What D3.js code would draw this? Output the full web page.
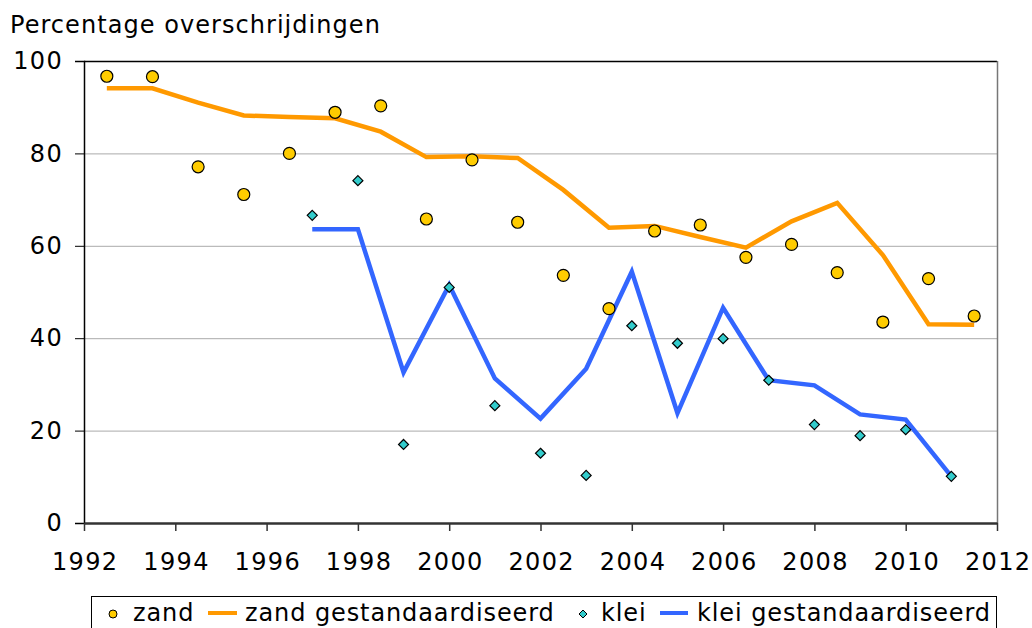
<!DOCTYPE html>
<html>
<head>
<meta charset="utf-8">
<script src="https://cdn.jsdelivr.net/npm/d3@7"></script>
<style>
  body { margin: 0; background: #fff; }
  svg { font-family: "DejaVu Sans", Verdana, sans-serif; }
</style>
</head>
<body>
<svg id="chart" width="1032" height="628"></svg>
<script>
// data
const zandYears = [1992.5, 1993.5, 1994.5, 1995.5, 1996.5, 1997.5, 1998.5, 1999.5, 2000.5, 2001.5,
                   2002.5, 2003.5, 2004.5, 2005.5, 2006.5, 2007.5, 2008.5, 2009.5, 2010.5, 2011.5];
const zand = [96.7, 96.6, 77.1, 71.1, 80.0, 88.9, 90.3, 65.8, 78.6, 65.1,
              53.6, 46.4, 63.2, 64.5, 57.5, 60.3, 54.2, 43.5, 52.9, 44.8];
const zandStd = [94.1, 94.1, 91.0, 88.2, 87.9, 87.6, 84.7, 79.2, 79.4, 79.0,
                 72.1, 63.9, 64.3, 61.9, 59.6, 65.3, 69.3, 58.0, 43.0, 42.9];
const kleiYears = [1997, 1998, 1999, 2000, 2001, 2002, 2003, 2004, 2005, 2006, 2007, 2008, 2009, 2010, 2011];
const klei = [66.6, 74.1, 17.0, 51.0, 25.4, 15.1, 10.3, 42.7, 38.9, 39.9, 30.9, 21.3, 18.9, 20.2, 10.1];
const kleiStd = [63.6, 63.6, 32.6, 51.5, 31.3, 22.6, 33.4, 54.4, 23.8, 46.6, 30.9, 29.8, 23.5, 22.4, 10.1];
const xTicks = [1992, 1994, 1996, 1998, 2000, 2002, 2004, 2006, 2008, 2010, 2012];
const yTicks = [0, 20, 40, 60, 80, 100];

const ORANGE = "#FF9900";
const BLUE = "#3366FF";
const YELLOW = "#FFCC00";
const TEAL = "#33CCCC";

const svg = d3.select("#chart");
const PLOT_LEFT = 84, PLOT_RIGHT = 997, PLOT_TOP = 61, PLOT_BOTTOM = 523;

const x = d3.scaleLinear().domain([1992, 2012]).range([PLOT_LEFT, PLOT_RIGHT]);
const y = d3.scaleLinear().domain([0, 100]).range([PLOT_BOTTOM, PLOT_TOP]);

// title
svg.append("text")
    .attr("x", 10).attr("y", 33)
    .style("font-size", "24px")
    .style("letter-spacing", "1.05px")
    .text("Percentage overschrijdingen");

// gridlines
svg.append("g")
    .selectAll("line")
    .data(yTicks.filter(d => d > 0 && d < 100))
    .enter().append("line")
    .attr("x1", PLOT_LEFT).attr("x2", PLOT_RIGHT)
    .attr("y1", d => y(d) + 0.5).attr("y2", d => y(d) + 0.5)
    .attr("stroke", "#aaa")
    .attr("stroke-width", 1);

// plot frame top + right
svg.append("line").attr("x1", PLOT_LEFT).attr("x2", PLOT_RIGHT).attr("y1", PLOT_TOP + 0.5).attr("y2", PLOT_TOP + 0.5)
    .attr("stroke", "#000").attr("stroke-width", 1.5);
svg.append("line").attr("x1", PLOT_RIGHT + 0.5).attr("x2", PLOT_RIGHT + 0.5).attr("y1", PLOT_TOP).attr("y2", PLOT_BOTTOM)
    .attr("stroke", "#777").attr("stroke-width", 1.5);

// y axis
const yAxis = svg.append("g")
    .attr("transform", `translate(${PLOT_LEFT},0)`)
    .call(d3.axisLeft(y).tickValues(yTicks).tickSize(9).tickPadding(12));
yAxis.select(".domain").attr("stroke", "#000").attr("stroke-width", 1.5);
yAxis.selectAll("text").style("font-size", "24px").style("letter-spacing", "1.3px").attr("fill", "#000");
yAxis.attr("font-family", null);

// x axis
const xAxis = svg.append("g")
    .attr("transform", `translate(0,${PLOT_BOTTOM})`)
    .call(d3.axisBottom(x).tickValues(xTicks).tickFormat(d3.format("d")).tickSize(8).tickSizeOuter(0).tickPadding(22));
xAxis.select(".domain").attr("stroke", "#333").attr("stroke-width", 2.5);
xAxis.selectAll(".tick line").attr("stroke", "#333").attr("stroke-width", 1.5);
xAxis.selectAll("text").style("font-size", "24px").style("letter-spacing", "1.35px")
    .attr("dx", "0.7px").attr("fill", "#000");
xAxis.attr("font-family", null);

// lines
const zandLine = d3.line().x((d, i) => x(zandYears[i])).y(d => y(d));
const kleiLine = d3.line().x((d, i) => x(kleiYears[i])).y(d => y(d));

svg.append("path")
    .attr("d", zandLine(zandStd))
    .attr("fill", "none").attr("stroke", ORANGE).attr("stroke-width", 4.5);

svg.append("path")
    .attr("d", kleiLine(kleiStd))
    .attr("fill", "none").attr("stroke", BLUE).attr("stroke-width", 4.5);

// klei diamonds
svg.append("g")
    .selectAll("path")
    .data(klei)
    .enter().append("path")
    .attr("transform", (d, i) => `translate(${x(kleiYears[i])},${y(d)})`)
    .attr("d", "M0,-5L5,0L0,5L-5,0Z")
    .attr("fill", TEAL).attr("stroke", "#000").attr("stroke-width", 1.2);

// zand circles
svg.append("g")
    .selectAll("circle")
    .data(zand)
    .enter().append("circle")
    .attr("cx", (d, i) => x(zandYears[i]))
    .attr("cy", d => y(d))
    .attr("r", 6)
    .attr("fill", YELLOW).attr("stroke", "#000").attr("stroke-width", 1.2);

// legend
const legend = svg.append("g");
legend.append("rect")
    .attr("x", 91.5).attr("y", 596.5)
    .attr("width", 905).attr("height", 40)
    .attr("fill", "#fff").attr("stroke", "#000").attr("stroke-width", 1);

const ly = 614, tb = 621, fs = "24px", ls = "0.9px";
const legText = (tx, s) => legend.append("text").attr("x", tx).attr("y", tb)
    .style("font-size", fs).style("letter-spacing", ls).text(s);

legend.append("circle").attr("cx", 113).attr("cy", ly).attr("r", 4)
    .attr("fill", YELLOW).attr("stroke", "#000").attr("stroke-width", 1);
legText(133, "zand");
legend.append("line").attr("x1", 208).attr("x2", 237).attr("y1", ly - 1).attr("y2", ly - 1)
    .attr("stroke", ORANGE).attr("stroke-width", 4);
legText(245, "zand gestandaardiseerd");
legend.append("path").attr("transform", `translate(583,${ly})`).attr("d", "M0,-4L4,0L0,4L-4,0Z")
    .attr("fill", TEAL).attr("stroke", "#000").attr("stroke-width", 1);
legText(601, "klei");
legend.append("line").attr("x1", 660).attr("x2", 688).attr("y1", ly - 1).attr("y2", ly - 1)
    .attr("stroke", BLUE).attr("stroke-width", 4);
legText(697, "klei gestandaardiseerd");
</script>
</body>
</html>
